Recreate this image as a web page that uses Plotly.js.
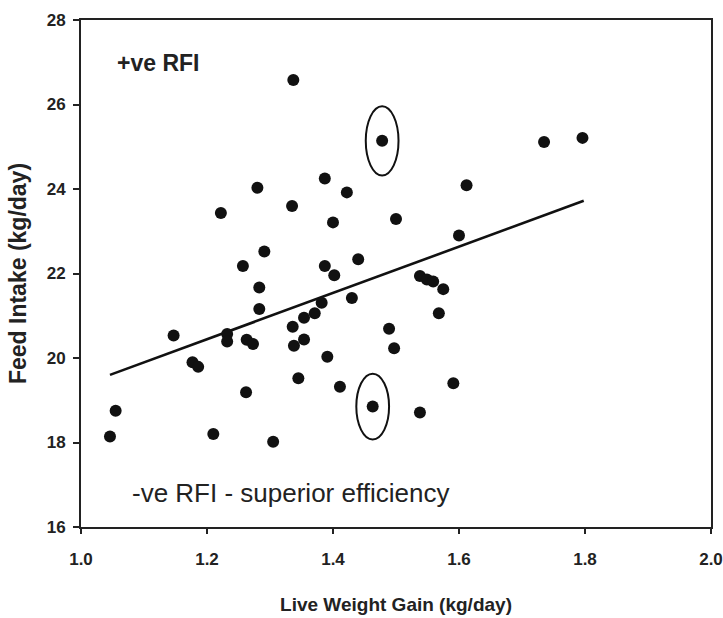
<!DOCTYPE html>
<html>
<head>
<meta charset="utf-8">
<script src="https://cdn.plot.ly/plotly-3.0.1.min.js"></script>
<style>html,body{margin:0;padding:0;background:#fff;}#chart{width:723px;height:618px;}</style>
</head>
<body>
<div id="chart"></div>
<script>
// Live weight gain (kg/day) and feed intake (kg/day) for each animal
const gainX = [1.046, 1.055, 1.147, 1.177, 1.186, 1.210, 1.222, 1.232, 1.232, 1.257,
  1.262, 1.263, 1.273, 1.280, 1.283, 1.283, 1.291, 1.305, 1.335, 1.337,
  1.336, 1.338, 1.345, 1.354, 1.354, 1.371, 1.382, 1.387, 1.387, 1.391,
  1.400, 1.402, 1.411, 1.422, 1.430, 1.440, 1.489, 1.497, 1.500, 1.538,
  1.549, 1.559, 1.575, 1.568, 1.538, 1.591, 1.600, 1.612, 1.735, 1.796];
const intakeY = [18.14, 18.75, 20.53, 19.90, 19.79, 18.20, 23.43, 20.57, 20.39, 22.18,
  19.19, 20.43, 20.33, 24.03, 21.67, 21.16, 22.52, 18.02, 23.60, 26.58,
  20.74, 20.29, 19.52, 20.95, 20.44, 21.06, 21.31, 24.25, 22.18, 20.03,
  23.21, 21.96, 19.32, 23.92, 21.42, 22.34, 20.69, 20.23, 23.29, 21.94,
  21.86, 21.81, 21.63, 21.06, 18.71, 19.40, 22.90, 24.09, 25.11, 25.21];
// Circled animals (highlighted +ve and -ve RFI)
const circledX = [1.478, 1.463];
const circledY = [25.14, 18.85];
// Regression line end points
const fitX = [1.046, 1.798];
const fitY = [19.60, 23.72];
// Axis ticks
const xTicks = [1.0, 1.2, 1.4, 1.6, 1.8, 2.0];
const xTickLabels = ['1.0', '1.2', '1.4', '1.6', '1.8', '2.0'];
const yTicks = [16, 18, 20, 22, 24, 26, 28];
const yTickLabels = ['16', '18', '20', '22', '24', '26', '28'];
const labelPos = '+ve RFI';
const labelNeg = '-ve RFI - superior efficiency';

const FONT = 'Liberation Sans, Arial, Helvetica, sans-serif';

const traces = [
  {x: fitX, y: fitY, mode: 'lines', type: 'scatter',
   line: {color: '#111', width: 2.6}, hoverinfo: 'skip', showlegend: false},
  {x: gainX, y: intakeY, mode: 'markers', type: 'scatter',
   marker: {color: '#111', size: 12}, showlegend: false},
  {x: circledX, y: circledY, mode: 'markers', type: 'scatter',
   marker: {color: '#111', size: 12, line: {width: 0}}, showlegend: false}
];

const ellW = 0.026, ellH = [0.82, 0.78];
const shapes = circledX.map((cx, i) => ({
  type: 'circle', xref: 'x', yref: 'y',
  x0: cx - ellW, x1: cx + ellW,
  y0: circledY[i] - ellH[i], y1: circledY[i] + ellH[i],
  line: {color: '#111', width: 2}
}));

const layout = {
  width: 723, height: 618,
  margin: {l: 81, r: 12, t: 20, b: 91},
  paper_bgcolor: '#fff', plot_bgcolor: '#fff',
  font: {family: FONT, color: '#222', weight: 700},
  xaxis: {
    range: [1.0, 2.0], tickvals: xTicks, ticktext: xTickLabels,
    showgrid: false, zeroline: false,
    showline: true, linecolor: '#222', linewidth: 2, mirror: true,
    ticks: 'outside', ticklen: 5, tickwidth: 2, tickcolor: '#222',
    ticklabelstandoff: 11,
    tickfont: {family: FONT, size: 17, color: '#222', weight: 'bold'},
    title: {text: 'Live Weight Gain (kg/day)', standoff: 29,
            font: {family: FONT, size: 19, color: '#222', weight: 700}}
  },
  yaxis: {
    range: [16, 28], tickvals: yTicks, ticktext: yTickLabels,
    showgrid: false, zeroline: false,
    showline: true, linecolor: '#222', linewidth: 2, mirror: true,
    ticks: 'outside', ticklen: 6, tickwidth: 2, tickcolor: '#222',
    ticklabelstandoff: 4,
    tickfont: {family: FONT, size: 17, color: '#222', weight: 'bold'},
    title: {text: 'Feed Intake (kg/day)', standoff: 14,
            font: {family: FONT, size: 23, color: '#222', weight: 700}}
  },
  shapes: shapes,
  annotations: [
    {x: 1.054, y: 26.99, xref: 'x', yref: 'y', text: labelPos, showarrow: false,
     xanchor: 'left', yanchor: 'middle',
     font: {family: FONT, size: 23, color: '#222', weight: 700}},
    {x: 1.078, y: 16.80, xref: 'x', yref: 'y', text: labelNeg, showarrow: false,
     xanchor: 'left', yanchor: 'middle',
     font: {family: FONT, size: 26, color: '#222', weight: 400}}
  ]
};

Plotly.newPlot('chart', traces, layout, {displayModeBar: false, staticPlot: true});
</script>
</body>
</html>
